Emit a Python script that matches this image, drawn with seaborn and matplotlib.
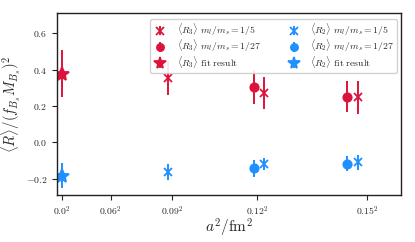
import numpy as np
import pandas as pd
import matplotlib
matplotlib.use("Agg")
import matplotlib.pyplot as plt
import seaborn as sns

sns.set_theme(style="ticks")
plt.rcParams["mathtext.fontset"] = "cm"
plt.rcParams["font.family"] = ["DejaVu Serif"]

# a^2 values (fm^2)
a2_15 = [0.00782, 0.0149, 0.0218]
a2_27 = [0.01416, 0.02105]
a2_fit = [0.0]

r3_15 = [0.353, 0.272, 0.248]
r3_15_err = [0.093, 0.087, 0.09]
r3_27 = [0.305, 0.252]
r3_27_err = [0.095, 0.086]
r3_fit = [0.378]
r3_fit_err = [0.13]

r2_15 = [-0.163, -0.12, -0.11]
r2_15_err = [0.046, 0.035, 0.041]
r2_27 = [-0.142, -0.117]
r2_27_err = [0.047, 0.041]
r2_fit = [-0.183]
r2_fit_err = [0.07]

xtick_vals = [0.0, 0.06, 0.09, 0.12, 0.15]
xtick_labels = [r"$0.0^2$", r"$0.06^2$", r"$0.09^2$", r"$0.12^2$", r"$0.15^2$"]
ytick_vals = [-0.2, 0.0, 0.2, 0.4, 0.6]

red = "#DC143C"
blue = "#1E90FF"

fig = plt.figure(figsize=(4.15, 2.42), dpi=100)
ax = fig.add_axes([57/415, 1 - 195/242, (401-57)/415, (195-13.3)/242])

series = [
    (a2_15, r3_15, r3_15_err, "x", red, 6, r"$\langle R_3\rangle\ m_l/m_s=1/5$"),
    (a2_27, r3_27, r3_27_err, "o", red, 6, r"$\langle R_3\rangle\ m_l/m_s=1/27$"),
    (a2_fit, r3_fit, r3_fit_err, "*", red, 10, r"$\langle R_3\rangle\ \mathrm{fit\ result}$"),
    (a2_15, r2_15, r2_15_err, "x", blue, 6, r"$\langle R_2\rangle\ m_l/m_s=1/5$"),
    (a2_27, r2_27, r2_27_err, "o", blue, 6, r"$\langle R_2\rangle\ m_l/m_s=1/27$"),
    (a2_fit, r2_fit, r2_fit_err, "*", blue, 10, r"$\langle R_2\rangle\ \mathrm{fit\ result}$"),
]
for x, y, e, m, c, ms, lab in series:
    ax.errorbar(x, y, yerr=e, fmt=m, color=c, ms=ms, mew=1.3, elinewidth=1.4,
                capsize=0, label=lab)

ax.set_xlim(-0.00037, 0.025)
ax.set_ylim(-0.29, 0.71)
ax.set_xticks([v**2 for v in xtick_vals])
ax.set_xticklabels(xtick_labels, fontsize=7)
ax.set_yticks(ytick_vals)
ax.set_yticklabels([r"$%.1f$" % v for v in ytick_vals], fontsize=7)
ax.tick_params(length=3.5, width=0.8, color="#222222")
for s in ax.spines.values():
    s.set_color("#222222")
    s.set_linewidth(1.0)

ax.set_xlabel(r"$a^2/\mathrm{fm}^2$", fontsize=11, labelpad=-1)
ax.set_ylabel(r"$\langle R\rangle/(f_{B_s}M_{B_s})^2$", fontsize=10.5, labelpad=2)

ax.legend(ncol=2, loc="upper right", bbox_to_anchor=(1 - 4.3/344, 1 - 5.7/181.7),
          fontsize=7, frameon=True, framealpha=0.9,
          handletextpad=0.9, columnspacing=2.6, borderaxespad=0.0,
          labelspacing=0.02, borderpad=0.25, handlelength=1.6, handleheight=0.5,
          markerscale=0.85)

fig.savefig("out.png", dpi=100)
